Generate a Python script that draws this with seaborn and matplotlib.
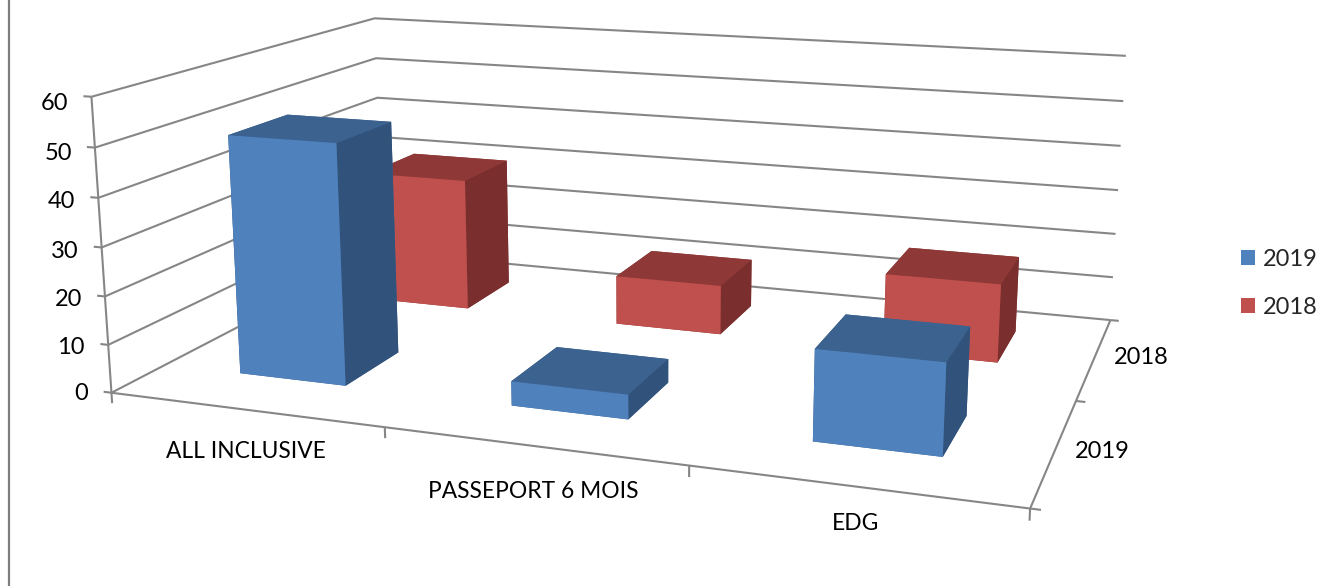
import numpy as np
import matplotlib
matplotlib.use('Agg')
import matplotlib.pyplot as plt
from matplotlib.lines import Line2D
from matplotlib.patches import Patch
import seaborn as sns

# values
categories = ['ALL INCLUSIVE', 'PASSEPORT 6 MOIS', 'EDG']
series_names = ['2019', '2018']
values_2019 = [50, 5, 18]
values_2018 = [30, 11, 17]
z_ticks = [0, 10, 20, 30, 40, 50, 60]

W, H = 1335, 586
sns.set_theme(style='white')
plt.rcParams['font.family'] = ['Lato', 'DejaVu Sans']
FS = 17
GREY = '#868686'

# front, top and side colour of each series
palette = sns.color_palette(['#4F81BD', '#C0504D'])
tops = ['#3C6290', '#8E3937']
sides = ['#31527A', '#7A2F2E']

fig = plt.figure(figsize=(W / 100, H / 100), dpi=100, facecolor='white')

# square 3d axes, larger than the figure so the view matches the reference
side = 1048.4
ax = fig.add_axes([102.04 / W, (H - 755.43) / H, side / W, side / H], projection='3d')
ax.set_axis_off()
ax.patch.set_visible(False)
ax.computed_zorder = False

nx, ny, zmax = len(categories), len(series_names), z_ticks[-1]


def line3d(xs, ys, zs):
    ax.plot(xs, ys, zs, color=GREY, lw=1.5, zorder=1, solid_capstyle='butt', clip_on=False)


# walls
for z in z_ticks:
    line3d([0, 0, nx], [0, ny, ny], [z, z, z])
    line3d([-0.03, 0], [0, 0], [z, z])
line3d([0, 0], [0, 0], [0, zmax])
line3d([0, nx, nx], [0, 0, ny], [0, 0, 0])
for i in range(nx + 1):
    line3d([i, i], [0, 0], [0, -2.2])
for j in range(ny + 1):
    line3d([nx, nx + 0.03], [j, j], [0, 0])

# bars, back series first
for j, vals in reversed(list(enumerate([values_2019, values_2018]))):
    n = len(vals)
    x0 = np.arange(n) + 0.292
    y0 = np.full(n, j + 0.33)
    # bar3d face order: bottom, top, front, back, left, right
    colors = [tops[j], tops[j], palette[j], tops[j], sides[j], sides[j]] * n
    ax.bar3d(x0, y0, np.zeros(n), 0.4, 0.4, vals, color=colors, shade=False,
             linewidth=0, zorder=5 - j)

ax.set_xlim(0, nx)
ax.set_ylim(0, ny)
ax.set_zlim(0, zmax)
ax.view_init(elev=13.5523, azim=-70.3774, roll=0.0356)
ax.set_proj_type('persp', focal_length=0.3439)
ax.set_box_aspect((3.0401, 1.9757, 1))


def px_text(x, y, s, ha='center', size=FS):
    fig.text(x / W, 1 - y / H, s, ha=ha, va='center', fontsize=size, color='black')


# tick labels sit outside the 3d box
for z, y, x in zip(z_ticks, [394, 347, 299, 251, 202, 153, 103], [88, 85, 82, 79, 75, 72, 68]):
    px_text(x, y, str(z), ha='right')
for name, (x, y) in zip(categories, [(246, 452), (533, 492), (855, 523)]):
    px_text(x, y, name, size=16.4)
for name, (x, y) in zip(series_names, [(1102, 451), (1141, 358)]):
    px_text(x, y, name)

handles = [Patch(color=palette[j], linewidth=0) for j in range(2)]
fig.legend(handles, series_names, loc='center left', bbox_to_anchor=(1241 / W, 1 - 283.5 / H),
           frameon=False, fontsize=FS, handlelength=0.6, handleheight=0.6,
           handletextpad=0.34, labelspacing=1.12, borderpad=0, borderaxespad=0)

# frame line at the left edge of the picture
fig.add_artist(Line2D([8.5 / W, 8.5 / W], [0, 1], color='#7F7F7F', lw=1.6, transform=fig.transFigure))

fig.savefig('out.png', dpi=100)
